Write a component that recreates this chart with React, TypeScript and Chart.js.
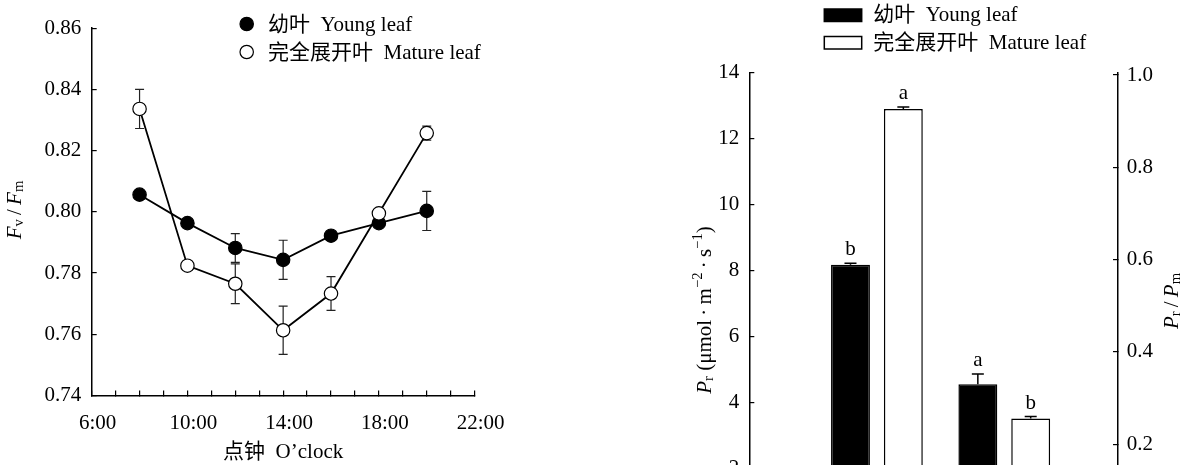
import React, { useEffect, useRef } from 'react';
import { Chart, registerables } from 'chart.js';
Chart.register(...registerables);

const FAMILY = "'Liberation Serif', 'Noto Sans CJK SC', serif";
const FONT_SIZE = 21;

// ---- Left chart: Fv/Fm diurnal course ----
const HOURS = [8, 10, 12, 14, 16, 18, 20];
const YOUNG_FVFM = [0.8056, 0.7963, 0.7882, 0.7843, 0.7922, 0.7963, 0.8003];
const YOUNG_FVFM_ERR = [0.0012, 0.001, 0.0047, 0.0064, 0.001, 0.001, 0.0064];
const MATURE_FVFM = [0.8336, 0.7824, 0.7765, 0.7613, 0.7733, 0.7995, 0.8257];
const MATURE_FVFM_ERR = [0.0064, 0.001, 0.0065, 0.0079, 0.0055, 0.001, 0.0023];
const X_TICK_VALUES = [6, 10, 14, 18, 22];
const X_TICK_LABELS = ['6:00', '10:00', '14:00', '18:00', '22:00'];
const Y_TICKS_FVFM = [0.74, 0.76, 0.78, 0.8, 0.82, 0.84, 0.86];
const X_TITLE = '点钟  O\u2019clock';
const YOUNG_LABEL = '幼叶  Young leaf';
const MATURE_LABEL = '完全展开叶  Mature leaf';

// ---- Right chart: Pr and Pr/Pm ----
const BAR_GROUPS = [0, 1]; // 0: Pr (left axis), 1: Pr/Pm (right axis)
const YOUNG_BAR_VALUES = [8.17, 0.33];
const YOUNG_BAR_ERR = [0.05, 0.022];
const MATURE_BAR_VALUES = [12.9, 0.256];
const MATURE_BAR_ERR = [0.06, 0.004];
const YOUNG_LETTERS = ['b', 'a'];
const MATURE_LETTERS = ['a', 'b'];
const PR_TICKS = [0, 2, 4, 6, 8, 10, 12, 14];
const RATIO_TICKS = [0.2, 0.4, 0.6, 0.8, 1.0];

type Run = { t: string; italic?: boolean; sub?: boolean; sup?: boolean };

function runFont(r: Run, size: number) {
  const s = r.sub || r.sup ? size * 0.7 : size;
  return `${r.italic ? 'italic ' : ''}${s}px ${FAMILY}`;
}

function drawRich(ctx: CanvasRenderingContext2D, runs: Run[], cx: number, cy: number, size: number, rotate: boolean) {
  ctx.save();
  ctx.translate(cx, cy);
  if (rotate) ctx.rotate(-Math.PI / 2);
  let total = 0;
  const widths = runs.map((r) => {
    ctx.font = runFont(r, size);
    const w = ctx.measureText(r.t).width;
    total += w;
    return w;
  });
  let x = -total / 2;
  ctx.textAlign = 'left';
  ctx.textBaseline = 'alphabetic';
  ctx.fillStyle = '#000';
  runs.forEach((r, i) => {
    ctx.font = runFont(r, size);
    const dy = r.sub ? size * 0.12 : r.sup ? -size * 0.42 : 0;
    ctx.fillText(r.t, x, size * 0.33 + dy);
    x += widths[i];
  });
  ctx.restore();
}

const axisGrid = {
  display: true,
  drawOnChartArea: false,
  drawTicks: true,
  tickLength: -5,
  color: '#000',
  lineWidth: 1.2,
};
const axisBorder = { display: true, color: '#000', width: 1.5 };

const leftErrorPlugin = {
  id: 'leftErrors',
  beforeDatasetsDraw(chart: any) {
    const ctx = chart.ctx as CanvasRenderingContext2D;
    const yS = chart.scales.y;
    const errs = [YOUNG_FVFM_ERR, MATURE_FVFM_ERR];
    chart.data.datasets.forEach((ds: any, di: number) => {
      const meta = chart.getDatasetMeta(di);
      meta.data.forEach((pt: any, i: number) => {
        const v = ds.data[i].y;
        const e = errs[di][i];
        const top = yS.getPixelForValue(v + e);
        const bot = yS.getPixelForValue(v - e);
        ctx.save();
        ctx.strokeStyle = '#222';
        ctx.lineWidth = 1.2;
        ctx.beginPath();
        ctx.moveTo(pt.x, top);
        ctx.lineTo(pt.x, bot);
        ctx.moveTo(pt.x - 4.5, top);
        ctx.lineTo(pt.x + 4.5, top);
        ctx.moveTo(pt.x - 4.5, bot);
        ctx.lineTo(pt.x + 4.5, bot);
        ctx.stroke();
        ctx.restore();
      });
    });
  },
};

const leftDecorPlugin = {
  id: 'leftDecor',
  afterDraw(chart: any) {
    const ctx = chart.ctx as CanvasRenderingContext2D;
    [0, 1].forEach((di, k) => {
      const ds = chart.data.datasets[di];
      const cy = 24 + k * 28;
      ctx.save();
      ctx.beginPath();
      ctx.arc(246.7, cy, 6.7, 0, Math.PI * 2);
      ctx.fillStyle = ds.pointBackgroundColor;
      ctx.fill();
      ctx.lineWidth = 1.2;
      ctx.strokeStyle = '#000';
      ctx.stroke();
      ctx.fillStyle = '#000';
      ctx.font = `${FONT_SIZE}px ${FAMILY}`;
      ctx.textAlign = 'left';
      ctx.textBaseline = 'middle';
      ctx.fillText(ds.label, 268, cy + 1);
      ctx.restore();
    });
    drawRich(
      ctx,
      [
        { t: 'F', italic: true },
        { t: 'v', sub: true },
        { t: '\u2009/\u2009' },
        { t: 'F', italic: true },
        { t: 'm', sub: true },
      ],
      14,
      210,
      FONT_SIZE,
      true
    );
  },
};

const rightDecorPlugin = {
  id: 'rightDecor',
  afterDatasetsDraw(chart: any) {
    const ctx = chart.ctx as CanvasRenderingContext2D;
    const errs = [YOUNG_BAR_ERR, MATURE_BAR_ERR, YOUNG_BAR_ERR, MATURE_BAR_ERR];
    const letters = [YOUNG_LETTERS, MATURE_LETTERS, YOUNG_LETTERS, MATURE_LETTERS];
    chart.data.datasets.forEach((ds: any, di: number) => {
      const meta = chart.getDatasetMeta(di);
      const yS = chart.scales[ds.yAxisID];
      meta.data.forEach((bar: any, i: number) => {
        const v = ds.data[i].y;
        if (v === null || v === undefined) return;
        const top = yS.getPixelForValue(v + errs[di][i]);
        const y0 = yS.getPixelForValue(v);
        ctx.save();
        ctx.strokeStyle = '#000';
        ctx.lineWidth = 1.5;
        ctx.beginPath();
        ctx.moveTo(bar.x, y0);
        ctx.lineTo(bar.x, top);
        ctx.moveTo(bar.x - 6, top);
        ctx.lineTo(bar.x + 6, top);
        ctx.stroke();
        ctx.fillStyle = '#000';
        ctx.font = `${FONT_SIZE}px ${FAMILY}`;
        ctx.textAlign = 'center';
        ctx.textBaseline = 'alphabetic';
        ctx.fillText(letters[di][i], bar.x, top - 8);
        ctx.restore();
      });
    });
  },
  afterDraw(chart: any) {
    const ctx = chart.ctx as CanvasRenderingContext2D;
    [0, 1].forEach((di, k) => {
      const ds = chart.data.datasets[di];
      const top = 9 + k * 27.5;
      ctx.save();
      ctx.fillStyle = ds.backgroundColor;
      ctx.fillRect(224.3, top, 37.4, 12.5);
      ctx.strokeStyle = '#000';
      ctx.lineWidth = 1.5;
      ctx.strokeRect(224.3, top, 37.4, 12.5);
      ctx.fillStyle = '#000';
      ctx.font = `${FONT_SIZE}px ${FAMILY}`;
      ctx.textAlign = 'left';
      ctx.textBaseline = 'middle';
      ctx.fillText(ds.label, 273.3, top + 6.5);
      ctx.restore();
    });
    drawRich(
      ctx,
      [
        { t: 'P', italic: true },
        { t: 'r', sub: true },
        { t: ' (μmol\u2009·\u2009m' },
        { t: '−2', sup: true },
        { t: '\u2009·\u2009s' },
        { t: '−1', sup: true },
        { t: ')' },
      ],
      104,
      310,
      FONT_SIZE,
      true
    );
    drawRich(
      ctx,
      [
        { t: 'P', italic: true },
        { t: 'r', sub: true },
        { t: '\u2009/\u2009' },
        { t: 'P', italic: true },
        { t: 'm', sub: true },
      ],
      571,
      301,
      FONT_SIZE,
      true
    );
  },
};

function leftConfig(): any {
  return {
    type: 'line',
    data: {
      datasets: [
        {
          label: YOUNG_LABEL,
          data: HOURS.map((h, i) => ({ x: h, y: YOUNG_FVFM[i] })),
          borderColor: '#000',
          borderWidth: 1.8,
          pointRadius: 6.7,
          pointBackgroundColor: '#000',
          pointBorderColor: '#000',
          pointBorderWidth: 1.2,
          order: 1,
        },
        {
          label: MATURE_LABEL,
          data: HOURS.map((h, i) => ({ x: h, y: MATURE_FVFM[i] })),
          borderColor: '#000',
          borderWidth: 1.8,
          pointRadius: 6.7,
          pointBackgroundColor: '#fff',
          pointBorderColor: '#000',
          pointBorderWidth: 1.2,
          order: 0,
        },
      ],
    },
    options: {
      responsive: false,
      animation: false,
      layout: { padding: { left: 0, top: 20.7, right: 560 - 474.6, bottom: 0 } },
      plugins: { legend: { display: false }, tooltip: { enabled: false } },
      scales: {
        x: {
          type: 'linear',
          min: 6,
          max: 22,
          border: axisBorder,
          grid: axisGrid,
          ticks: {
            stepSize: 1,
            autoSkip: false,
            maxRotation: 0,
            padding: 20,
            labelOffset: 6,
            color: '#000',
            font: { size: FONT_SIZE, family: FAMILY },
            callback: (v: number) => {
              const i = X_TICK_VALUES.indexOf(Math.round(v));
              return i >= 0 && Math.abs(v - X_TICK_VALUES[i]) < 1e-6 ? X_TICK_LABELS[i] : '';
            },
          },
          title: {
            display: true,
            text: X_TITLE,
            color: '#000',
            font: { size: FONT_SIZE, family: FAMILY },
            padding: { top: 0, bottom: 0 },
          },
          afterFit: (s: any) => {
            s.height = 69.5;
          },
        },
        y: {
          type: 'linear',
          min: 0.74,
          max: 0.86,
          border: axisBorder,
          grid: axisGrid,
          afterBuildTicks: (s: any) => {
            s.ticks = Y_TICKS_FVFM.map((v) => ({ value: v }));
          },
          ticks: {
            padding: 15.5,
            color: '#000',
            font: { size: FONT_SIZE, family: FAMILY },
            callback: (v: number) => v.toFixed(2),
          },
          afterFit: (s: any) => {
            s.width = 91.7;
          },
        },
      },
    },
    plugins: [leftErrorPlugin, leftDecorPlugin],
  };
}

function rightConfig(): any {
  const mk = (label: string, vals: number[], group: number, axis: string, fill: string) => ({
    label,
    data: BAR_GROUPS.map((g) => ({ x: g, y: g === group ? vals[group] : null })),
    yAxisID: axis,
    backgroundColor: fill,
    borderColor: '#000',
    borderWidth: 1.5,
    skipNull: true,
    categoryPercentage: 0.83,
    barPercentage: 0.736,
  });
  return {
    type: 'bar',
    data: {
      datasets: [
        mk(YOUNG_LABEL, YOUNG_BAR_VALUES, 0, 'y', '#000'),
        mk(MATURE_LABEL, MATURE_BAR_VALUES, 0, 'y', '#fff'),
        mk(YOUNG_LABEL, YOUNG_BAR_VALUES, 1, 'y1', '#000'),
        mk(MATURE_LABEL, MATURE_BAR_VALUES, 1, 'y1', '#fff'),
      ],
    },
    options: {
      responsive: false,
      animation: false,
      layout: { padding: { left: 0, top: 72.7, right: 0, bottom: 600 - 534.1 } },
      plugins: { legend: { display: false }, tooltip: { enabled: false } },
      scales: {
        x: {
          type: 'linear',
          min: -1.002,
          max: 1.893,
          offset: false,
          display: true,
          grid: { display: false, offset: false },
          border: { display: false },
          ticks: { display: false, stepSize: 1, includeBounds: false },
          afterBuildTicks: (s: any) => {
            s.ticks = BAR_GROUPS.map((v) => ({ value: v }));
          },
          afterFit: (s: any) => {
            s.height = 0;
          },
        },
        y: {
          type: 'linear',
          position: 'left',
          min: 0,
          max: 14,
          border: axisBorder,
          grid: axisGrid,
          afterBuildTicks: (s: any) => {
            s.ticks = PR_TICKS.map((v) => ({ value: v }));
          },
          ticks: {
            padding: 15,
            color: '#000',
            font: { size: FONT_SIZE, family: FAMILY },
            callback: (v: number) => String(v),
          },
          afterFit: (s: any) => {
            s.width = 149.3;
          },
        },
        y1: {
          type: 'linear',
          position: 'right',
          min: 0.0054,
          max: 1.005,
          border: axisBorder,
          grid: axisGrid,
          afterBuildTicks: (s: any) => {
            s.ticks = RATIO_TICKS.map((v) => ({ value: v }));
          },
          ticks: {
            padding: 13.7,
            color: '#000',
            font: { size: FONT_SIZE, family: FAMILY },
            callback: (v: number) => v.toFixed(1),
          },
          afterFit: (s: any) => {
            s.width = 68;
          },
        },
      },
    },
    plugins: [rightDecorPlugin],
  };
}

export default function App() {
  const leftRef = useRef<HTMLCanvasElement>(null);
  const rightRef = useRef<HTMLCanvasElement>(null);
  useEffect(() => {
    const c1 = new Chart(leftRef.current as HTMLCanvasElement, leftConfig());
    const c2 = new Chart(rightRef.current as HTMLCanvasElement, rightConfig());
    return () => {
      c1.destroy();
      c2.destroy();
    };
  }, []);
  return (
    <div
      style={{
        position: 'fixed',
        left: 0,
        top: 0,
        width: 1186,
        height: 465,
        overflow: 'hidden',
        background: '#fff',
      }}
    >
      <canvas ref={leftRef} width={560} height={465} style={{ position: 'absolute', left: 0, top: 0 }} />
      <canvas ref={rightRef} width={586} height={600} style={{ position: 'absolute', left: 600, top: 0 }} />
    </div>
  );
}
